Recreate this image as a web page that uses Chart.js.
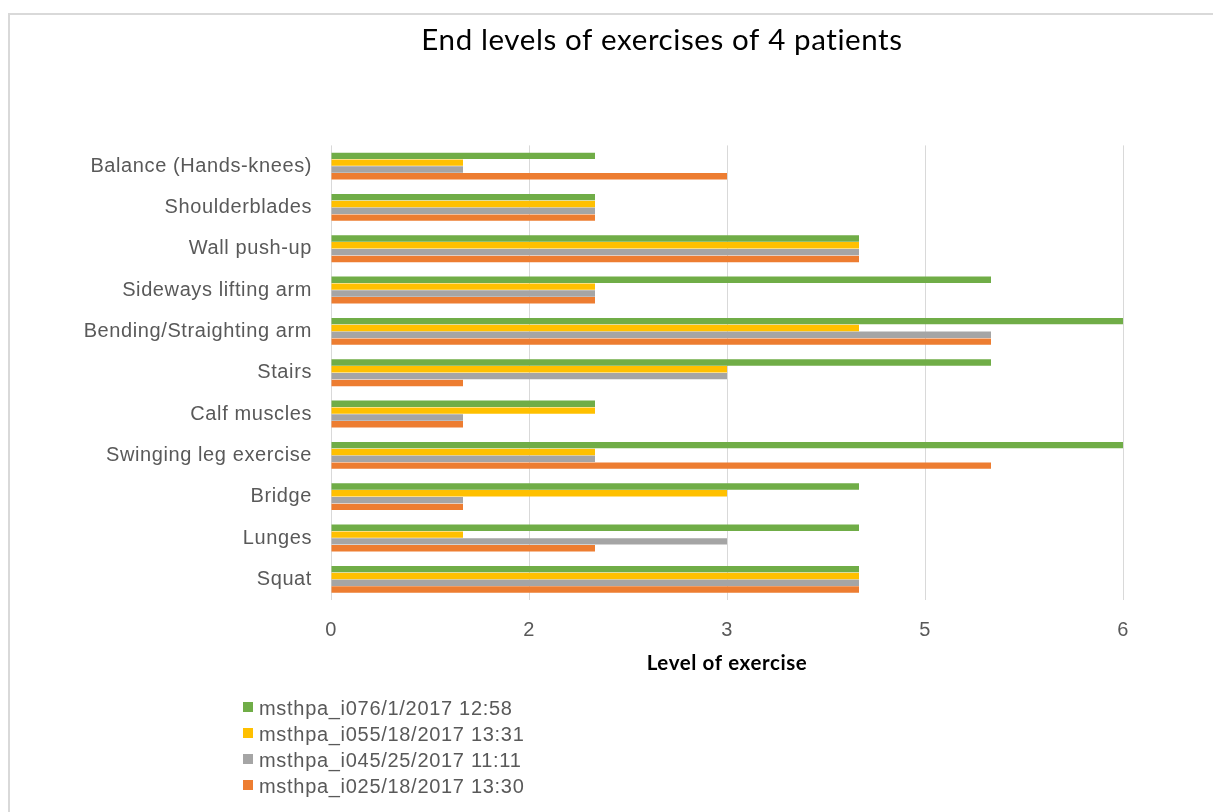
<!DOCTYPE html>
<html>
<head>
<meta charset="utf-8">
<title>End levels of exercises of 4 patients</title>
<script src="https://cdn.jsdelivr.net/npm/chart.js@4.4.1/dist/chart.umd.min.js"></script>
<style>
  html, body { margin: 0; padding: 0; background: #fff; overflow: hidden; width: 1213px; height: 812px; }
  #frame {
    position: absolute; left: 8px; top: 13px;
    border-left: 2px solid #d9d9d9; border-top: 2px solid #d9d9d9;
    width: 1304px; height: 797px;
  }
  #chart { display: block; }
  #legend {
    position: absolute; left: 243px; top: 695px;
    font-family: "Liberation Sans", Arial, sans-serif; font-size: 20px;
    letter-spacing: 0.7px; color: #595959; line-height: 26px;
  }
  #legend .row { display: flex; align-items: center; height: 26px; white-space: nowrap; }
  #legend .box { width: 10px; height: 10px; margin-right: 6px; flex: none; position: relative; top: -1px; }
</style>
</head>
<body>
<div id="frame">
  <canvas id="chart" width="1304" height="797"></canvas>
</div>
<div id="legend"></div>
<script>
// Exercises, listed top to bottom as they appear on the axis
const categories = [
  'Balance (Hands-knees)',
  'Shoulderblades',
  'Wall push-up',
  'Sideways lifting arm',
  'Bending/Straighting arm',
  'Stairs',
  'Calf muscles',
  'Swinging leg exercise',
  'Bridge',
  'Lunges',
  'Squat'
];

// End level reached per exercise, one array per patient session
const patientI07 = [2, 2, 4, 5, 6, 5, 2, 6, 4, 4, 4];
const patientI05 = [1, 2, 4, 2, 4, 3, 2, 2, 3, 1, 4];
const patientI04 = [1, 2, 4, 2, 5, 3, 1, 2, 1, 3, 4];
const patientI02 = [3, 2, 4, 2, 5, 1, 1, 5, 1, 2, 4];

const seriesLabels = [
  'msthpa_i076/1/2017 12:58',
  'msthpa_i055/18/2017 13:31',
  'msthpa_i045/25/2017 11:11',
  'msthpa_i025/18/2017 13:30'
];
const seriesColors = ['#70AD47', '#FFC000', '#A5A5A5', '#ED7D31'];
const seriesValues = [patientI07, patientI05, patientI04, patientI02];

// Axis runs 0..6 in steps of 1.5; labels are shown rounded to whole levels
const tickLabels = ['0', '2', '3', '5', '6'];

const datasets = seriesValues.map((vals, i) => ({
  label: seriesLabels[i],
  data: vals,
  backgroundColor: seriesColors[i],
  borderWidth: 0,
  categoryPercentage: 0.66,
  barPercentage: 0.94
}));

// Slightly spaced glyphs for all canvas text
const spacingPlugin = {
  id: 'letterSpacing',
  beforeDraw(chart) { chart.ctx.letterSpacing = '0.6px'; }
};

// Centre the title on the full canvas width rather than the padded layout area
const titleSpanPlugin = {
  id: 'titleSpan',
  afterLayout(chart) {
    const t = chart.titleBlock;
    if (t) {
      t.left = 0;
      t.right = chart.width;
      t.width = chart.width;
    }
  }
};

new Chart(document.getElementById('chart'), {
  type: 'bar',
  data: { labels: categories, datasets },
  plugins: [spacingPlugin, titleSpanPlugin],
  options: {
    indexAxis: 'y',
    responsive: false,
    animation: false,
    layout: { padding: { left: 0, right: 191, top: 0, bottom: 132 } },
    plugins: {
      legend: { display: false },
      tooltip: { enabled: false },
      title: {
        display: true,
        text: 'End levels of exercises of 4 patients',
        color: '#000000',
        font: { family: 'Lato, "Open Sans", sans-serif', size: 29.5, weight: 'normal', lineHeight: 1.2 },
        padding: { top: 8, bottom: 87 }
      }
    },
    scales: {
      x: {
        type: 'linear',
        min: 0,
        max: 6,
        afterBuildTicks(scale) {
          scale.ticks = tickLabels.map((t, i) => ({ value: i * 1.5 }));
        },
        afterFit(scale) { scale.height = 80; },
        grid: { color: '#d9d9d9', lineWidth: 1, drawTicks: false },
        border: { display: false },
        ticks: {
          padding: 18,
          color: '#595959',
          font: { family: '"Liberation Sans", Arial, sans-serif', size: 20 },
          callback: (v, i) => tickLabels[i]
        },
        title: {
          display: true,
          text: 'Level of exercise',
          color: '#000000',
          font: { family: 'Lato, "Open Sans", sans-serif', size: 20.5, weight: 'bold', lineHeight: 1.2 },
          padding: { top: 0, bottom: 4 }
        }
      },
      y: {
        afterFit(scale) { scale.width = 321; },
        grid: { display: false, drawTicks: false },
        border: { display: false },
        ticks: {
          padding: 19,
          color: '#595959',
          font: { family: '"Liberation Sans", Arial, sans-serif', size: 20 }
        }
      }
    }
  }
});

// Legend list, one row per series
const legendEl = document.getElementById('legend');
seriesLabels.forEach((lab, i) => {
  const row = document.createElement('div');
  row.className = 'row';
  const box = document.createElement('span');
  box.className = 'box';
  box.style.background = seriesColors[i];
  const txt = document.createElement('span');
  txt.textContent = lab;
  row.appendChild(box);
  row.appendChild(txt);
  legendEl.appendChild(row);
});
</script>
</body>
</html>
